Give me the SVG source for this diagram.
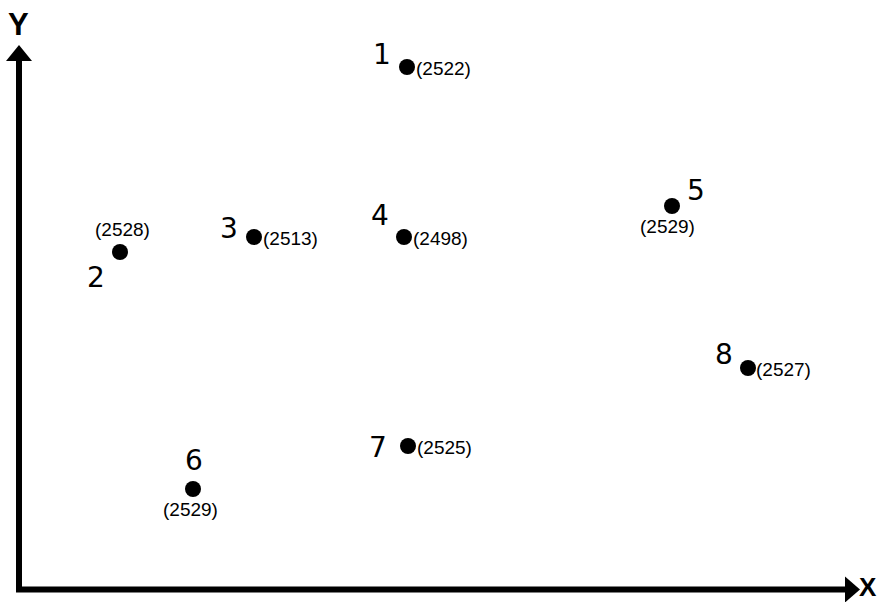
<svg xmlns="http://www.w3.org/2000/svg" width="880" height="602" viewBox="0 0 880 602">
<style>
.num{font-family:"DejaVu Sans",sans-serif;font-size:28px;fill:#000}
.val{font-family:"Liberation Sans",Arial,sans-serif;font-size:19px;fill:#000}
.dot{fill:#000}
.ax{font-family:"Liberation Sans",Arial,sans-serif;font-weight:bold;fill:#000}
</style>
<rect width="880" height="602" fill="#fff"/>
<g id="axes">
<path d="M19,58 V589.5 H847" fill="none" stroke="#000" stroke-width="6"/>
<polygon points="19,45 6,61 32,61" fill="#000"/>
<polygon points="860,589.5 845,576.5 845,602.5" fill="#000"/>
<text class="ax" x="8" y="35" font-size="31">Y</text>
<text class="ax" x="859" y="596" font-size="26">X</text>
</g>
<g id="n1"><circle class="dot" cx="407" cy="67" r="8"/><text class="num" x="373" y="64">1</text><text class="val" x="416" y="75">(2522)</text></g>
<g id="n2"><circle class="dot" cx="120" cy="252" r="8"/><text class="num" x="87" y="287">2</text><text class="val" x="95" y="236">(2528)</text></g>
<g id="n3"><circle class="dot" cx="254" cy="237" r="8"/><text class="num" x="220" y="238">3</text><text class="val" x="263" y="245">(2513)</text></g>
<g id="n4"><circle class="dot" cx="404" cy="237" r="8"/><text class="num" x="371" y="225">4</text><text class="val" x="413" y="245">(2498)</text></g>
<g id="n5"><circle class="dot" cx="672" cy="206" r="8"/><text class="num" x="687" y="200">5</text><text class="val" x="640" y="233">(2529)</text></g>
<g id="n6"><circle class="dot" cx="193" cy="489" r="8"/><text class="num" x="185" y="470">6</text><text class="val" x="163" y="516">(2529)</text></g>
<g id="n7"><circle class="dot" cx="408" cy="446" r="8"/><text class="num" x="369" y="457">7</text><text class="val" x="417" y="454">(2525)</text></g>
<g id="n8"><circle class="dot" cx="748" cy="368" r="8"/><text class="num" x="715" y="364">8</text><text class="val" x="756" y="376">(2527)</text></g>
</svg>
